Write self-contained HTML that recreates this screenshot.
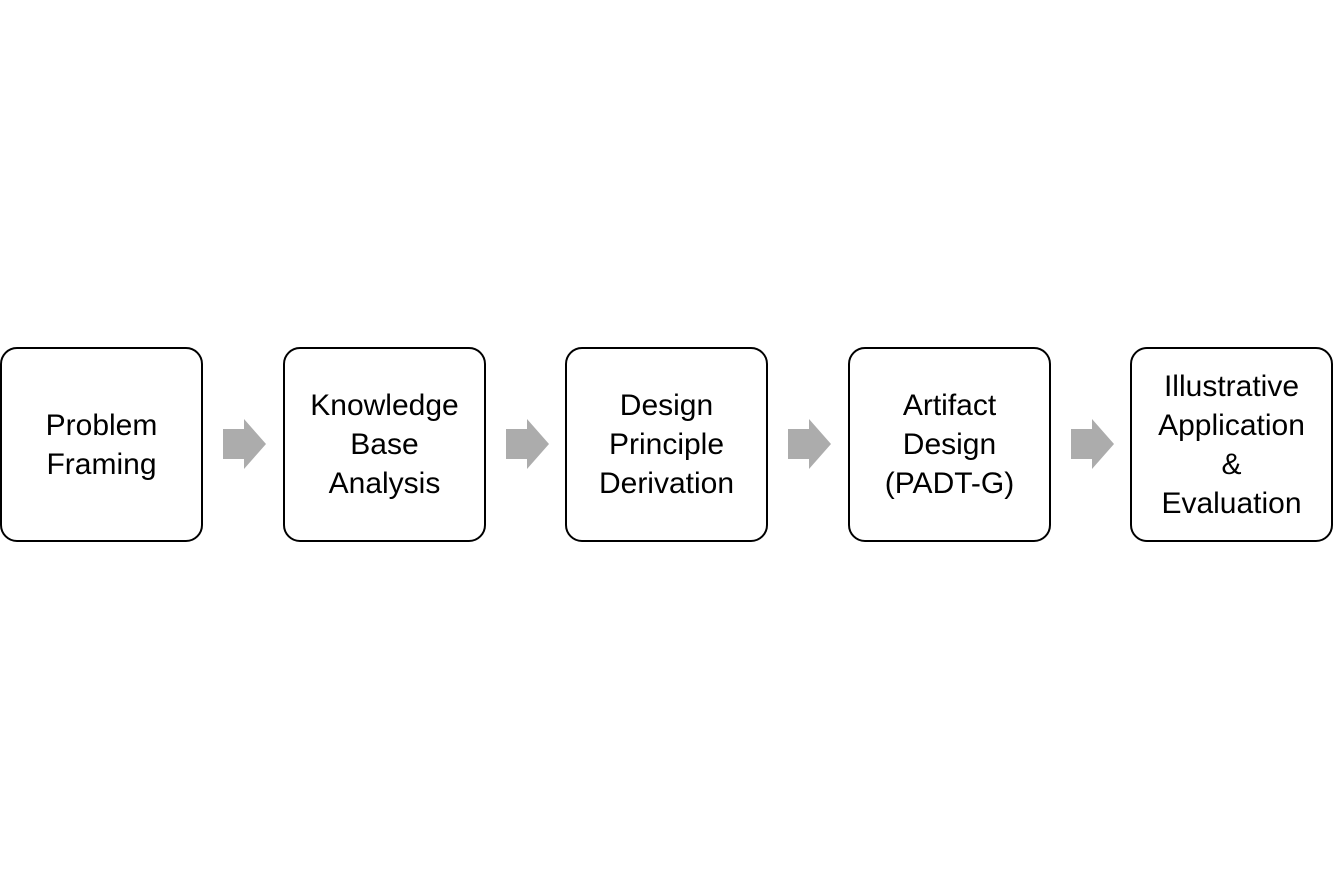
<!DOCTYPE html>
<html><head><style>
body{margin:0;width:1344px;height:889px;background:#fff;position:relative;overflow:hidden;font-family:"Liberation Sans",sans-serif}
.b{position:absolute;top:347px;width:199px;height:191px;border:2px solid #000;border-radius:17px;display:flex;align-items:center;justify-content:center;text-align:center;font-size:30px;line-height:39px;color:#000;white-space:nowrap}
svg{position:absolute;left:0;top:0}
</style></head><body>
<div class="b" style="left:0px">Problem<br>Framing</div>
<div class="b" style="left:283px">Knowledge<br>Base<br>Analysis</div>
<div class="b" style="left:565px">Design<br>Principle<br>Derivation</div>
<div class="b" style="left:848px">Artifact<br>Design<br>(PADT-G)</div>
<div class="b" style="left:1130px">Illustrative<br>Application<br>&amp;<br>Evaluation</div>
<svg width="1344" height="889">
<g fill="#acacac">
<polygon points="223,429 244,429 244,419 266,444 244,469 244,459 223,459"/>
<polygon points="506,429 527,429 527,419 549,444 527,469 527,459 506,459"/>
<polygon points="788,429 809,429 809,419 831,444 809,469 809,459 788,459"/>
<polygon points="1071,429 1092,429 1092,419 1114,444 1092,469 1092,459 1071,459"/>
</g></svg>
</body></html>
